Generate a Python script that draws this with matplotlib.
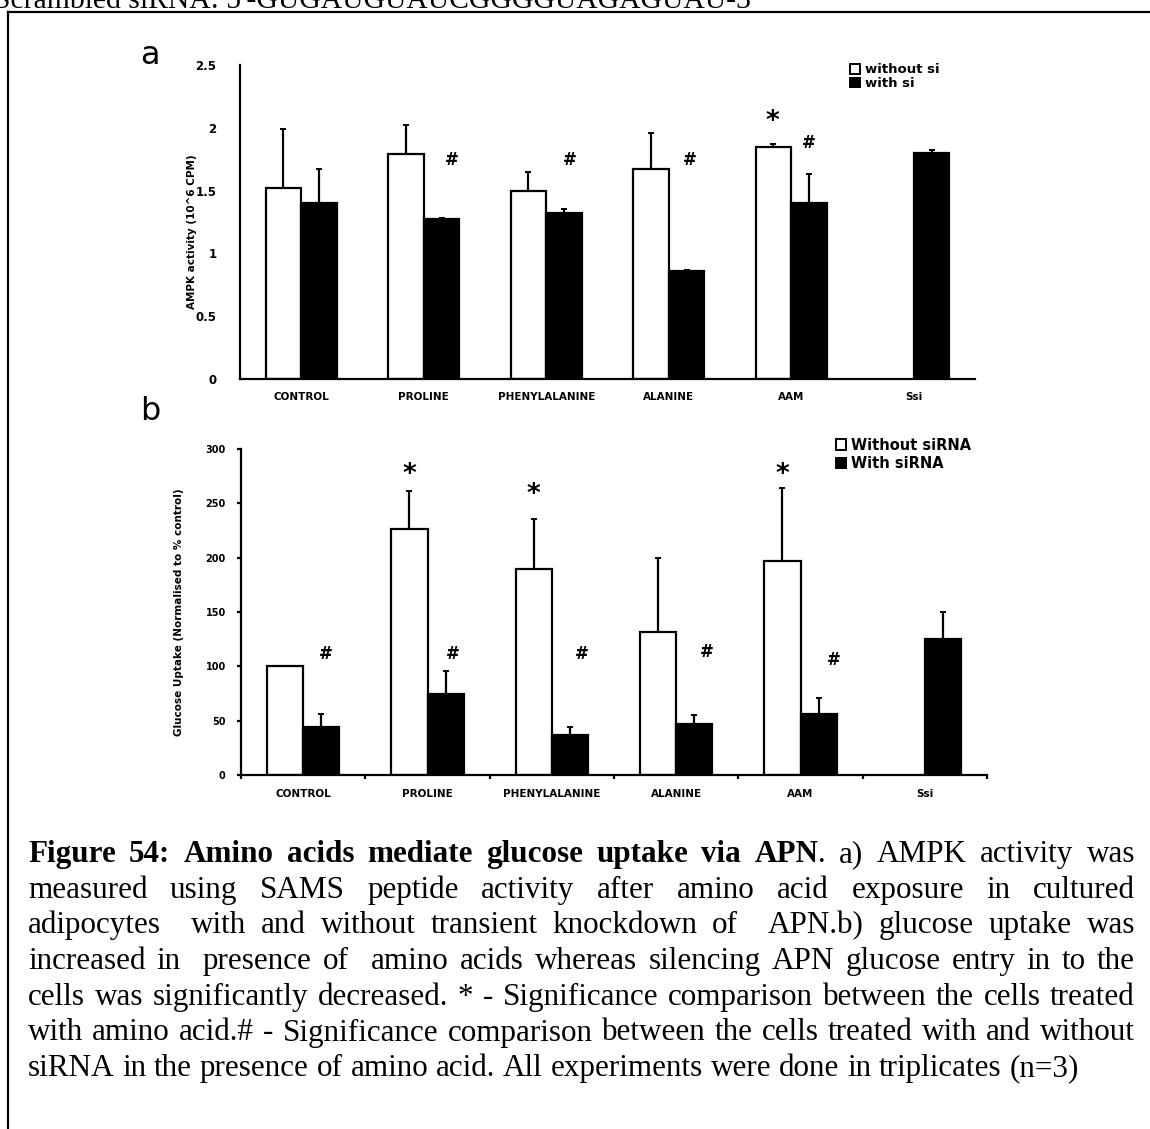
import re
import numpy as np
import matplotlib
matplotlib.use('Agg')
import matplotlib.pyplot as plt
from matplotlib.patches import Patch
from matplotlib.lines import Line2D

# data
categories = ['CONTROL', 'PROLINE', 'PHENYLALANINE', 'ALANINE', 'AAM', 'Ssi']

# a) AMPK activity (10^6 CPM), error = upper SD only
ampk_without = [1.52, 1.79, 1.50, 1.67, 1.85, np.nan]
ampk_without_err = [0.47, 0.23, 0.15, 0.29, 0.02, np.nan]
ampk_with = [1.40, 1.27, 1.32, 0.86, 1.40, 1.80]
ampk_with_err = [0.27, 0.01, 0.03, 0.01, 0.23, 0.02]

# b) glucose uptake, normalised to % control
glu_without = [100, 226, 190, 131.5, 197, np.nan]
glu_without_err = [np.nan, 35, 45.5, 68, 67, np.nan]
glu_with = [44, 74.5, 37, 47, 56, 125]
glu_with_err = [12, 21.5, 7, 8, 15, 25]

# significance marks (x in category units, y in data units)
ampk_mark_x = [1.23, 2.19, 3.17, 4.14, 3.85]
ampk_mark_y = [1.74, 1.74, 1.74, 1.88, 2.09]
ampk_mark_sym = ['#', '#', '#', '#', '*']

glu_mark_x = [0.18, 1.20, 2.24, 3.25, 4.27, 0.855, 1.855, 3.855]
glu_mark_y = [111, 111, 111, 113, 106, 281, 263, 281]
glu_mark_sym = ['#', '#', '#', '#', '#', '*', '*', '*']

ampk_ticks = [0, 0.5, 1, 1.5, 2, 2.5]
ampk_ticklabels = ['0', '0.5', '1', '1.5', '2', '2.5']
glu_ticks = [0, 50, 100, 150, 200, 250, 300]
glu_ticklabels = ['0', '50', '100', '150', '200', '250', '300']

caption_runs = [
    [('Figure 54: Amino acids mediate glucose uptake via APN', True),
     ('. a) AMPK activity was', False)],
    [('measured using SAMS peptide activity after amino acid exposure in cultured', False)],
    [('adipocytes  with and without transient knockdown of  APN.b) glucose uptake was', False)],
    [('increased in  presence of  amino acids whereas silencing APN glucose entry in to the', False)],
    [('cells was significantly decreased. * - Significance comparison between the cells treated', False)],
    [('with amino acid.# - Significance comparison between the cells treated with and without', False)],
    [('siRNA in the presence of amino acid. All experiments were done in triplicates (n=3)', False)],
]

W, H = 1150, 1129
fig = plt.figure(figsize=(W / 100, H / 100), dpi=100)
fig.patch.set_facecolor('white')


def px_axes(x0, x1, ytop, ybot):
    return fig.add_axes([x0 / W, 1 - ybot / H, (x1 - x0) / W, (ybot - ytop) / H])


bw = 0.29
xs = np.arange(len(categories))


def draw_bars(ax, without, without_err, with_, with_err):
    wo = np.array(without, dtype=float)
    woe = np.array(without_err, dtype=float)
    wi = np.array(with_, dtype=float)
    wie = np.array(with_err, dtype=float)
    m = ~np.isnan(wo)
    ax.bar(xs[m] - bw / 2, wo[m], bw, color='white', edgecolor='black', linewidth=1.6, zorder=2)
    ax.bar(xs + bw / 2, wi, bw, color='black', edgecolor='black', linewidth=1.6, zorder=2)
    me = ~np.isnan(woe)
    ax.errorbar(xs[me] - bw / 2, wo[me], yerr=[np.zeros(me.sum()), woe[me]], fmt='none',
                ecolor='black', elinewidth=1.6, capsize=2, capthick=1.4, zorder=3)
    ax.errorbar(xs + bw / 2, wi, yerr=[np.zeros(len(wi)), wie], fmt='none',
                ecolor='black', elinewidth=1.6, capsize=2, capthick=1.4, zorder=3)


def style_axes(ax):
    for s in ['top', 'right']:
        ax.spines[s].set_visible(False)
    for s in ['left', 'bottom']:
        ax.spines[s].set_linewidth(1.6)
    ax.set_xlim(-0.5, len(categories) - 0.5)
    ax.set_xticks(xs)
    ax.set_xticklabels(categories, fontsize=7.5, fontweight='bold')


def put_marks(ax, mx, my, ms):
    for x, y, s in zip(mx, my, ms):
        if s == '*':
            ax.annotate(s, (x, y), xytext=(0, -4), textcoords='offset points',
                        ha='center', va='center', fontsize=19, fontweight='bold')
        else:
            ax.annotate(s, (x, y), xytext=(0, 0), textcoords='offset points',
                        ha='center', va='center', fontsize=12, fontweight='bold')


# ---- panel a
ax1 = px_axes(240, 975, 65, 379)
draw_bars(ax1, ampk_without, ampk_without_err, ampk_with, ampk_with_err)
style_axes(ax1)
ax1.set_ylim(0, 2.5)
ax1.set_yticks(ampk_ticks)
ax1.set_yticklabels(ampk_ticklabels, fontsize=8.5, fontweight='bold')
ax1.tick_params(axis='y', length=0, pad=17)
ax1.tick_params(axis='x', length=0, pad=9)
ax1.set_ylabel('AMPK activity (10^6 CPM)', fontsize=7.5, fontweight='bold')
ax1.yaxis.set_label_coords(-0.058, 0.47)
put_marks(ax1, ampk_mark_x, ampk_mark_y, ampk_mark_sym)
h1 = [Patch(facecolor='white', edgecolor='black', linewidth=1.4),
      Patch(facecolor='black', edgecolor='black', linewidth=1.4)]
ax1.legend(h1, ['without si', 'with si'], loc='upper left', bbox_to_anchor=(0.83, 1.005),
           frameon=False, prop={'size': 9.5, 'weight': 'bold'}, handlelength=0.75,
           handleheight=0.75, handletextpad=0.35, labelspacing=0.05, borderpad=0,
           borderaxespad=0)

# ---- panel b
ax2 = px_axes(241, 987, 449, 775)
draw_bars(ax2, glu_without, glu_without_err, glu_with, glu_with_err)
style_axes(ax2)
ax2.set_ylim(0, 300)
ax2.set_yticks(glu_ticks)
ax2.set_yticklabels(glu_ticklabels, fontsize=7, fontweight='bold')
ax2.tick_params(axis='y', length=3, width=1.6, direction='out', pad=8)
ax2.tick_params(axis='x', which='major', length=0, pad=10)
ax2.set_xticks(np.arange(-0.5, len(categories)), minor=True)
ax2.tick_params(axis='x', which='minor', length=3, width=1.6, direction='out')
ax2.set_ylabel('Glucose Uptake (Normalised to % control)', fontsize=7.5, fontweight='bold')
ax2.yaxis.set_label_coords(-0.076, 0.5)
put_marks(ax2, glu_mark_x, glu_mark_y, glu_mark_sym)
h2 = [Patch(facecolor='white', edgecolor='black', linewidth=1.4),
      Patch(facecolor='black', edgecolor='black', linewidth=1.4)]
ax2.legend(h2, ['Without siRNA', 'With siRNA'], loc='upper left', bbox_to_anchor=(0.797, 1.035),
           frameon=False, prop={'size': 10.5, 'weight': 'bold'}, handlelength=0.7,
           handleheight=0.7, handletextpad=0.35, labelspacing=0.25, borderpad=0,
           borderaxespad=0)

# panel letters
fig.text(150 / W, 1 - 55 / H, 'a', fontsize=23, ha='center', va='center')
fig.text(150 / W, 1 - 411 / H, 'b', fontsize=23, ha='center', va='center')

# page frame + cut-off line of text above it
fig.add_artist(Line2D([8 / W, 8 / W], [0, 1 - 12 / H], color='black', lw=1.6))
fig.add_artist(Line2D([8 / W, 1], [1 - 12 / H, 1 - 12 / H], color='black', lw=1.6))

serif = 'Liberation Serif'
renderer = fig.canvas.get_renderer()


def width_px(t):
    return t.get_window_extent(renderer).width


# caption size chosen so the last line spans ~1052 px
probe = fig.text(0, 0, caption_runs[-1][0][0], fontsize=20, family=serif)
cap_fs = 20 * 1052 / width_px(probe)
probe.remove()

fig.text(-6 / W, 1 - 8 / H, "Scrambled siRNA: 5'-GUGAUGUAUCGGGGUAGAGUAU-3'",
         fontsize=cap_fs * 0.95, family=serif, ha='left', va='baseline')

x_left, x_right = 28, 1135
base0, step = 862, 35.7
for li, runs in enumerate(caption_runs):
    tokens = []
    for text, bold in runs:
        parts = re.split(r'( +)', text)
        gap = 0
        first = True
        for p in parts:
            if p == '':
                continue
            if p.startswith(' '):
                gap = len(p)
                continue
            if first and tokens and gap == 0:
                sp = 0
            else:
                sp = gap
            tokens.append([p, bold, sp if tokens else 0])
            gap = 0
            first = False
    y = 1 - (base0 + li * step) / H
    arts = []
    for word, bold, sp in tokens:
        t = fig.text(0, y, word, fontsize=cap_fs, family=serif,
                     fontweight='bold' if bold else 'normal', ha='left', va='baseline')
        arts.append((t, width_px(t), sp))
    total_w = sum(a[1] for a in arts)
    n_sp = sum(a[2] for a in arts)
    if li < len(caption_runs) - 1:
        unit = (x_right - x_left - total_w) / n_sp
    else:
        unit = width_px(fig.text(0, 0, ' ', fontsize=cap_fs, family=serif, alpha=0))
    x = x_left
    for t, w, sp in arts:
        x += sp * unit
        t.set_x(x / W)
        x += w

fig.savefig('out.png', dpi=100)
